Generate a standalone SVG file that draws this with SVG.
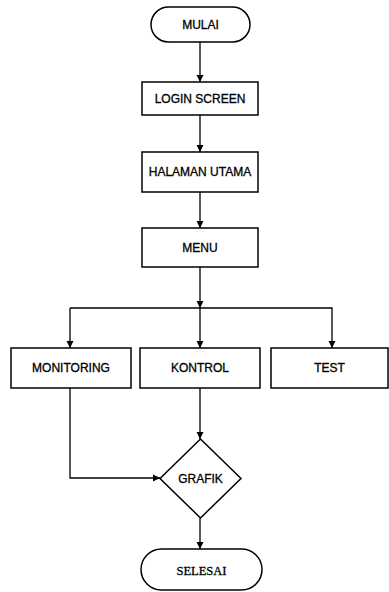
<svg xmlns="http://www.w3.org/2000/svg" width="389" height="592" viewBox="0 0 389 592">
<style>
.n{fill:#fff;stroke:#000;stroke-width:1.5}
.t{font-family:"Liberation Sans",Arial,sans-serif;font-size:12px;fill:#000;stroke:#000;stroke-width:0.3;text-anchor:middle;dominant-baseline:central}
.s{font-family:"Liberation Serif","Times New Roman",serif;font-size:12.5px;fill:#000;stroke:#000;stroke-width:0.3;text-anchor:middle;dominant-baseline:central}
.c{fill:none;stroke:#000;stroke-width:1.3}
</style>
<defs>
<marker id="a" markerWidth="8" markerHeight="8" refX="7" refY="4" orient="auto" markerUnits="userSpaceOnUse">
<path d="M0,0.5 L7,4 L0,7.5 Z" fill="#000"/>
</marker>
</defs>
<g id="connectors">
<path class="c" d="M200,42 V82" marker-end="url(#a)"/>
<path class="c" d="M200,115 V152" marker-end="url(#a)"/>
<path class="c" d="M200,192 V228" marker-end="url(#a)"/>
<path class="c" d="M200,267 V308" marker-end="url(#a)"/>
<path class="c" d="M70,308 H332 V348" marker-end="url(#a)"/>
<path class="c" d="M70,308 V348" marker-end="url(#a)"/>
<path class="c" d="M200,308 V348" marker-end="url(#a)"/>
<path class="c" d="M70,388 V478 H160" marker-end="url(#a)"/>
<path class="c" d="M200,388 V439" marker-end="url(#a)"/>
<path class="c" d="M200,518 V549" marker-end="url(#a)"/>
</g>
<g id="mulai"><rect class="n" x="151" y="7" width="99" height="35" rx="17.5"/><text class="t" x="200.5" y="25">MULAI</text></g>
<g id="login"><rect class="n" x="142" y="82" width="116" height="33"/><text class="t" x="200" y="99">LOGIN SCREEN</text></g>
<g id="halaman"><rect class="n" x="142" y="152" width="116" height="40"/><text class="t" x="200" y="172">HALAMAN UTAMA</text></g>
<g id="menu"><rect class="n" x="142" y="228" width="116" height="39"/><text class="t" x="200" y="247.5">MENU</text></g>
<g id="monitoring"><rect class="n" x="11" y="348" width="120" height="40"/><text class="t" x="71" y="368">MONITORING</text></g>
<g id="kontrol"><rect class="n" x="140" y="348" width="120" height="40"/><text class="t" x="200" y="368">KONTROL</text></g>
<g id="test"><rect class="n" x="271" y="348" width="117" height="40"/><text class="t" x="329.5" y="368">TEST</text></g>
<g id="grafik"><path class="n" d="M200.5,439 L241,478.5 L200.5,518 L160,478.5 Z"/><text class="t" x="200.5" y="478.5">GRAFIK</text></g>
<g id="selesai"><rect class="n" x="141" y="549" width="121" height="41" rx="20.5"/><text class="s" x="201.5" y="571">SELESAI</text></g>
</svg>
